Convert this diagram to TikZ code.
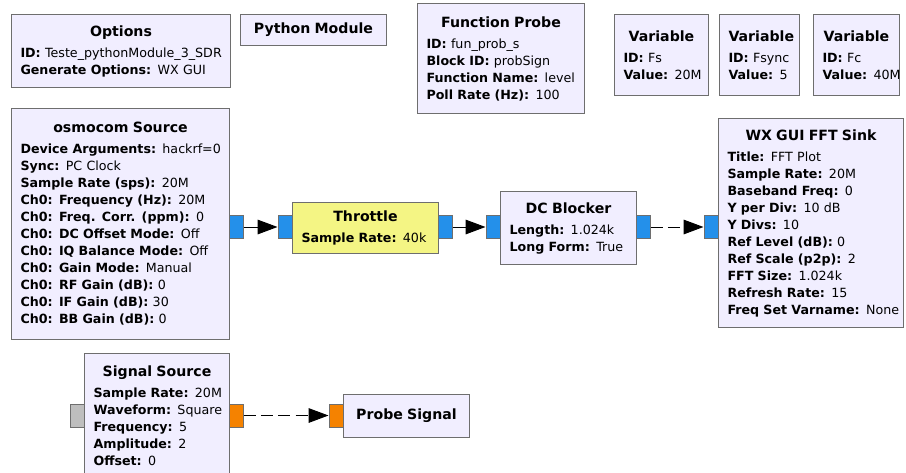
\documentclass[tikz,border=0pt]{standalone}
\usepackage{fontspec}
\setmainfont{DejaVu Sans}
\usepackage{xcolor}
\usetikzlibrary{arrows.meta}
\definecolor{blkfill}{HTML}{F1EEFF}
\definecolor{blkdraw}{HTML}{6E6E6E}
\definecolor{thrfill}{HTML}{F4F584}
\definecolor{cplxport}{HTML}{2490EA}
\definecolor{fltport}{HTML}{F58200}
\definecolor{msgport}{HTML}{BEBEBE}
\newcommand{\px}{0.75pt}
\newcommand{\blktitle}[1]{{\centering\fontsize{10.6}{13}\selectfont\bfseries #1\par}\vskip 3pt}
\newcommand{\prm}[2]{\mbox{\textbf{#1:} #2}\par}
\tikzset{
	blk/.style={draw=blkdraw, fill=blkfill, line width=.75pt, anchor=north west, inner xsep=9*\px, inner ysep=0pt, font=\fontsize{9.5}{12.75}\selectfont},
	blksize/.style 2 args={minimum width=#1*\px, minimum height=#2*\px, text width=(#1-18)*\px},
	port/.style={draw=blkdraw, line width=.75pt, minimum width=14*\px, minimum height=23*\px, inner sep=0pt},
	cport/.style={port, fill=cplxport},
	fport/.style={port, fill=fltport},
	mport/.style={port, fill=msgport},
	conn/.style={draw, line width=.75pt, -{Triangle[length=15pt, width=11pt]}},
	dconn/.style={conn, dash pattern=on 9pt off 4pt}
}

\begin{document}
\begin{tikzpicture}[x=\px, y=-\px]
	\useasboundingbox (0,0) rectangle (906,472);
	\clip (0,0) rectangle (906,472);
	\newcommand{\porty}{227}
	\newcommand{\sigporty}{415.5}
	% top row
	\node [blk, blksize={219}{73}] (options) at (11,14) {\blktitle{Options}\prm{ID}{Teste\_pythonModule\_3\_SDR}\prm{Generate Options}{WX GUI}};
	\node [blk, blksize={146}{31}] (pymod) at (240,14) {\blktitle{Python Module}};
	\node [blk, blksize={167}{110}] (funprobe) at (417,3) {\blktitle{Function Probe}\prm{ID}{fun\_prob\_s}\prm{Block ID}{probSign}\prm{Function Name}{level}\prm{Poll Rate (Hz)}{100}};
	\node [blk, blksize={94}{81}] (varfs) at (614,14) {\blktitle{Variable}\prm{ID}{Fs}\prm{Value}{20M}};
	\node [blk, blksize={80}{81}] (varfsync) at (719,14) {\blktitle{Variable}\prm{ID}{Fsync}\prm{Value}{5}};
	\node [blk, blksize={86}{81}] (varfc) at (813,14) {\blktitle{Variable}\prm{ID}{Fc}\prm{Value}{40M}};
	% flow graph
	\node [blk, blksize={218}{231}] (osmo) at (11,108) {\blktitle{osmocom Source}\prm{Device Arguments}{hackrf=0}\prm{Sync}{PC Clock}\prm{Sample Rate (sps)}{20M}\prm{Ch0: Frequency (Hz)}{20M}\prm{Ch0: Freq. Corr. (ppm)}{0}\prm{Ch0: DC Offset Mode}{Off}\prm{Ch0: IQ Balance Mode}{Off}\prm{Ch0: Gain Mode}{Manual}\prm{Ch0: RF Gain (dB)}{0}\prm{Ch0: IF Gain (dB)}{30}\prm{Ch0: BB Gain (dB)}{0}};
	\node [blk, blksize={146}{51}, fill=thrfill] (throttle) at (292,202) {\blktitle{Throttle}\prm{Sample Rate}{40k}};
	\node [blk, blksize={136}{73}] (dcblock) at (500,191) {\blktitle{DC Blocker}\prm{Length}{1.024k}\prm{Long Form}{True}};
	\node [blk, blksize={185}{209}] (fftsink) at (718,118) {\blktitle{WX GUI FFT Sink}\prm{Title}{FFT Plot}\prm{Sample Rate}{20M}\prm{Baseband Freq}{0}\prm{Y per Div}{10 dB}\prm{Y Divs}{10}\prm{Ref Level (dB)}{0}\prm{Ref Scale (p2p)}{2}\prm{FFT Size}{1.024k}\prm{Refresh Rate}{15}\prm{Freq Set Varname}{None}};
	\node [blk, blksize={145}{125}] (sigsrc) at (84,353) {\blktitle{Signal Source}\prm{Sample Rate}{20M}\prm{Waveform}{Square}\prm{Frequency}{5}\prm{Amplitude}{2}\prm{Offset}{0}};
	\node [blk, blksize={126}{43}] (probesig) at (343,394) {\blktitle{Probe Signal}};
	% ports
	\node [cport] (osmoout) at (236,\porty) {};
	\node [cport] (thrin) at (285,\porty) {};
	\node [cport] (throut) at (445,\porty) {};
	\node [cport] (dcin) at (493,\porty) {};
	\node [cport] (dcout) at (643,\porty) {};
	\node [cport] (fftin) at (711,\porty) {};
	\node [mport] (sigin) at (77,\sigporty) {};
	\node [fport] (sigout) at (236,\sigporty) {};
	\node [fport] (probein) at (336,\sigporty) {};
	% connections
	\path [conn] (osmoout) -- (thrin);
	\path [conn] (throut) -- (dcin);
	\path [dconn] (dcout) -- (fftin);
	\path [dconn] (sigout) -- (probein);
\end{tikzpicture}
\end{document}
